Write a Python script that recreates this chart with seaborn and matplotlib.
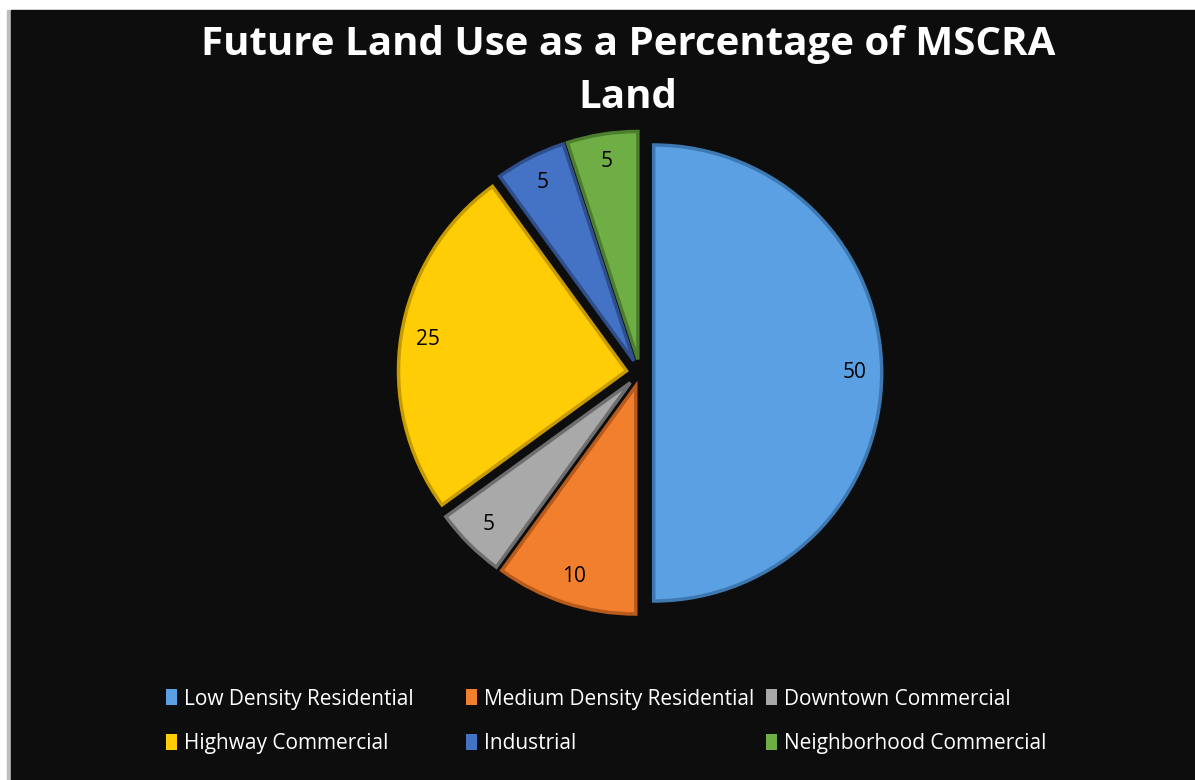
import matplotlib
matplotlib.use("Agg")
import matplotlib.pyplot as plt
import seaborn as sns
from matplotlib.patches import Rectangle, Patch

categories = ["Low Density Residential", "Medium Density Residential", "Downtown Commercial",
              "Highway Commercial", "Industrial", "Neighborhood Commercial"]
values = [50, 10, 5, 25, 5, 5]
colors = ["#5CA0E4", "#F17F2E", "#A9A9A9", "#FFCD05", "#4472C4", "#6FAE45"]
edge_colors = ["#3E78B0", "#B85A1A", "#6E6E6E", "#C79A00", "#2E4F8C", "#4C7E2E"]
title_text = "Future Land Use as a Percentage of MSCRA\nLand"

sns.set_theme(style="white")
plt.rcParams['font.family'] = ['Open Sans', 'DejaVu Sans']

W, H = 1195, 780
fig = plt.figure(figsize=(W / 100, H / 100), dpi=100, facecolor="white")
fig.patches.append(Rectangle((7 / W, 0), 4 / W, 1 - 10 / H, transform=fig.transFigure,
                             color="#bdbdbd", zorder=-2))
fig.patches.append(Rectangle((11 / W, 0), 1 - 11 / W, 1 - 10 / H, transform=fig.transFigure,
                             color="#0d0d0d", zorder=-1))

R = 228
cx, cy = 640, 373
half = 1.3 * R
ax = fig.add_axes([(cx - half) / W, (H - cy - half) / H, 2 * half / W, 2 * half / H])
ax.set_zorder(1)
wedges, texts = ax.pie(values, colors=colors, startangle=90, counterclock=False,
                       explode=[0.06] * len(values), labels=[str(v) for v in values],
                       labeldistance=0.88, radius=1,
                       wedgeprops=dict(linewidth=2.5),
                       textprops=dict(color="black", fontsize=15))
for w, ec in zip(wedges, edge_colors):
    w.set_edgecolor(ec)
for t in texts:
    t.set_ha("center")
    t.set_va("center")
ax.set_xlim(-1.3, 1.3)
ax.set_ylim(-1.3, 1.3)
ax.set_aspect("equal")
ax.axis("off")

fig.text(628 / W, 1 - 71 / H, title_text, color="white", fontsize=29, fontweight="bold",
         ha="center", va="center", linespacing=1.45, zorder=2)

# legend in three columns, row-major order as in the reference
col_x = [166, 466, 766]
for i, x in enumerate(col_x):
    idx = [i, i + 3]
    handles = [Patch(facecolor=colors[j], edgecolor="none") for j in idx]
    labels = [categories[j] for j in idx]
    fig.legend(handles, labels, loc="center left", bbox_to_anchor=(x / W, 1 - 721.5 / H),
               frameon=False, fontsize=15, labelcolor="white", handlelength=0.55,
               handleheight=0.8, handletextpad=0.3, borderpad=0, borderaxespad=0,
               labelspacing=1.15)

fig.savefig("out.png", dpi=100, facecolor=fig.get_facecolor())
